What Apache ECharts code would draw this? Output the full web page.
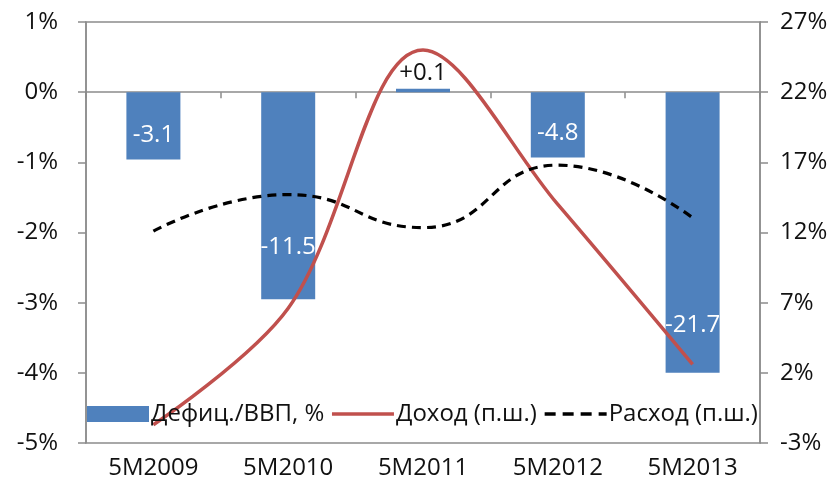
<!DOCTYPE html>
<html>
<head>
<meta charset="utf-8">
<script src="https://cdn.jsdelivr.net/npm/echarts@6/dist/echarts.min.js"></script>
<style>html,body{margin:0;padding:0;background:#fff}#c{width:837px;height:491px}</style>
</head>
<body>
<div id="c"></div>
<script>
const categories = ['5M2009', '5M2010', '5M2011', '5M2012', '5M2013'];
const deficitPct = [-0.96, -2.95, 0.05, -0.93, -4.0];
const deficitLabels = ['-3.1', '-11.5', '+0.1', '-4.8', '-21.7'];
const revenue = [-1.7, 6.6, 25.0, 14.0, 2.6];
const expense = [12.1, 14.7, 12.35, 16.8, 13.05];
const leftTicks = [-5, -4, -3, -2, -1, 0, 1];
const rightTicks = [-3, 2, 7, 12, 17, 22, 27];

const labelDist = [12, 40, 4, 12, 36];
const FONT = "'Open Sans', sans-serif";
const axisColor = '#8c8c8c';
const textColor = '#111';

const chart = echarts.init(document.getElementById('c'));
chart.setOption({
  animation: false,
  grid: { left: 86, right: 77, top: 22, bottom: 48, show: true, borderColor: axisColor, borderWidth: 1.5, backgroundColor: 'transparent' },
  legend: {
    left: 82, top: 397, itemWidth: 62, itemHeight: 16, itemGap: 6,
    textStyle: { fontFamily: FONT, fontSize: 24, color: textColor, padding: [0, 0, 0, -3] },
    data: [
      { name: 'Дефиц./ВВП, %', icon: 'rect' },
      { name: 'Доход (п.ш.)', itemStyle: { opacity: 0 }, lineStyle: { width: 3.5, color: '#c0504d' } },
      { name: 'Расход (п.ш.)', itemStyle: { opacity: 0 }, lineStyle: { width: 3.6, color: '#000', type: [11, 7] } }
    ]
  },
  xAxis: [
    {
      type: 'category', data: categories, position: 'bottom',
      axisLine: { show: false, onZero: false },
      axisTick: { show: false },
      axisLabel: { fontFamily: FONT, fontSize: 24, color: textColor, margin: 13 }
    },
    {
      type: 'category', data: categories, position: 'bottom',
      axisLine: { show: true, onZero: true, onZeroAxisIndex: 0, lineStyle: { color: axisColor, width: 1.5 } },
      axisTick: { show: true, length: 6, inside: false, lineStyle: { color: axisColor, width: 1.5 } },
      axisLabel: { show: false }
    }
  ],
  yAxis: [
    {
      type: 'value', min: -5, max: 1, interval: 1,
      axisLine: { show: true, lineStyle: { color: axisColor, width: 1.5 } },
      axisTick: { show: true, length: 8, lineStyle: { color: axisColor, width: 1.5 } },
      splitLine: { show: false },
      axisLabel: { fontFamily: FONT, fontSize: 24, color: textColor, margin: 28, formatter: '{value}%', customValues: leftTicks }
    },
    {
      type: 'value', min: -3, max: 27, position: 'right',
      axisLine: { show: true, lineStyle: { color: axisColor, width: 1.5 } },
      axisTick: { show: true, length: 8, lineStyle: { color: axisColor, width: 1.5 }, customValues: rightTicks },
      splitLine: { show: false },
      axisLabel: { fontFamily: FONT, fontSize: 24, color: textColor, margin: 20, formatter: '{value}%', customValues: rightTicks }
    }
  ],
  series: [
    {
      name: 'Дефиц./ВВП, %', type: 'bar', xAxisIndex: 0, yAxisIndex: 0, barWidth: 54,
      itemStyle: { color: '#4f81bd' },
      data: deficitPct.map((v, i) => ({
        value: v,
        label: {
          show: true,
          position: v >= 0 ? 'top' : 'insideBottom',
          distance: labelDist[i],
          color: v >= 0 ? textColor : '#fff',
          fontFamily: FONT, fontSize: 24,
          formatter: deficitLabels[i]
        }
      })),
      z: 2
    },
    {
      name: 'Доход (п.ш.)', type: 'line', xAxisIndex: 0, yAxisIndex: 1, data: revenue,
      smooth: 0.35, symbol: 'none',
      lineStyle: { color: '#c0504d', width: 3.5 }, itemStyle: { color: '#c0504d' }, z: 3
    },
    {
      name: 'Расход (п.ш.)', type: 'line', xAxisIndex: 0, yAxisIndex: 1, data: expense,
      smooth: 0.5, symbol: 'none',
      lineStyle: { color: '#000', width: 3.2, type: [9, 6] }, itemStyle: { color: '#000' }, z: 3
    }
  ]
});
</script>
</body>
</html>
